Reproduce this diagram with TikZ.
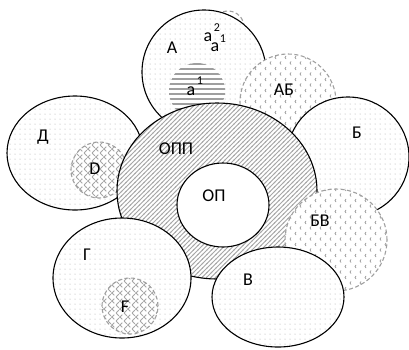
\documentclass[tikz,border=0pt]{standalone}
\usepackage{fontspec}
\setmainfont{Carlito}
\usetikzlibrary{patterns}
\pgfdeclarepatternformonly{mydots}{\pgfqpoint{-1pt}{-1pt}}{\pgfqpoint{6pt}{6pt}}{\pgfqpoint{5pt}{5pt}}{%
  \pgfpathcircle{\pgfqpoint{0pt}{0pt}}{0.5pt}\pgfusepath{fill}}
\pgfdeclarepatternformonly{myhatch}{\pgfqpoint{-1pt}{-1pt}}{\pgfqpoint{5.5pt}{5.5pt}}{\pgfqpoint{4.5pt}{4.5pt}}{%
  \pgfsetlinewidth{0.8pt}\pgfpathmoveto{\pgfqpoint{-0.5pt}{-0.5pt}}\pgfpathlineto{\pgfqpoint{5pt}{5pt}}\pgfusepath{stroke}}
\pgfdeclarepatternformonly{mycross}{\pgfqpoint{-1pt}{-1pt}}{\pgfqpoint{9pt}{9pt}}{\pgfqpoint{8pt}{8pt}}{%
  \pgfsetlinewidth{0.9pt}\pgfpathmoveto{\pgfqpoint{-0.5pt}{-0.5pt}}\pgfpathlineto{\pgfqpoint{8.5pt}{8.5pt}}%
  \pgfpathmoveto{\pgfqpoint{-0.5pt}{8.5pt}}\pgfpathlineto{\pgfqpoint{8.5pt}{-0.5pt}}\pgfusepath{stroke}}
\pgfdeclarepatternformonly{mystripes}{\pgfqpoint{-1pt}{-1pt}}{\pgfqpoint{6pt}{6pt}}{\pgfqpoint{5pt}{5pt}}{%
  \pgfsetlinewidth{2.6pt}\pgfpathmoveto{\pgfqpoint{-1pt}{0pt}}\pgfpathlineto{\pgfqpoint{6pt}{0pt}}\pgfusepath{stroke}}
\pgfdeclarepatternformonly{mychevron}{\pgfqpoint{-2pt}{-3pt}}{\pgfqpoint{12pt}{14pt}}{\pgfqpoint{10pt}{11pt}}{%
  \pgfsetlinewidth{0.8pt}%
  \pgfpathmoveto{\pgfqpoint{1pt}{1.5pt}}\pgfpathlineto{\pgfqpoint{0pt}{0pt}}\pgfpathlineto{\pgfqpoint{1pt}{-1.5pt}}%
  \pgfpathmoveto{\pgfqpoint{6pt}{7pt}}\pgfpathlineto{\pgfqpoint{5pt}{5.5pt}}\pgfpathlineto{\pgfqpoint{6pt}{4pt}}%
  \pgfusepath{stroke}}
\begin{document}
\begin{tikzpicture}[x=1pt,y=-1pt,
  ell/.style={draw=black, line width=1.1pt, preaction={fill=white}, pattern=mydots, pattern color=gray!70},
  dcirc/.style={draw=gray!75, dash pattern=on 4pt off 2.5pt, line width=1.1pt, preaction={fill=white}},
  lbl/.style={font=\fontsize{18}{20}\selectfont, inner sep=0pt},
  sup/.style={font=\fontsize{12}{14}\selectfont, inner sep=0pt}]
\useasboundingbox (0,0) rectangle (409,349);
% a2 small circle (mostly hidden)
\draw[dcirc] (228,27) circle[radius=16pt];
% A
\draw[ell] (204,72) ellipse[x radius=62pt, y radius=62pt];
% a1 striped circle
\fill[white] (197,91) circle[radius=28pt];
\fill[pattern=mystripes, pattern color=gray!75] (197,91) circle[radius=28pt];
% D (Д) ellipse and D circle
\draw[ell] (75,153) ellipse[x radius=68pt, y radius=57pt];
\draw[dcirc, pattern=mycross, pattern color=gray!70] (99,170) circle[radius=28pt];
% AB circle
\draw[dcirc, pattern=mychevron, pattern color=gray!75] (288,102) circle[radius=48pt];
% B ellipse
\draw[ell] (348,157) ellipse[x radius=61pt, y radius=60pt];
% OPP
\draw[line width=1.1pt, preaction={fill=white}, pattern=myhatch, pattern color=gray!70] (217,191) ellipse[x radius=100pt, y radius=88pt];
% OP
\draw[line width=1.1pt, fill=white] (223,205) ellipse[x radius=46pt, y radius=42pt];
% BV circle
\draw[dcirc, pattern=mychevron, pattern color=gray!75] (336,240) circle[radius=51pt];
% G ellipse and F
\draw[ell] (122,278) ellipse[x radius=69pt, y radius=60pt];
\draw[dcirc, pattern=mycross, pattern color=gray!70] (130,306) circle[radius=28pt];
% V ellipse
\draw[ell] (278,297) ellipse[x radius=66pt, y radius=50pt];
% labels
\node[lbl] (lA) at (172,48) {А};
\node[lbl] (la2) at (208,37) {a};
\node[sup] (la2s) at (217,28) {2};
\node[lbl] (la1b) at (215,47) {a};
\node[sup] (la1bs) at (223,39) {1};
\node[lbl] (la1) at (191,91) {a};
\node[sup] (la1s) at (200,81) {1};
\node[lbl] (lAB) at (284,90) {АБ};
\node[lbl] (lB) at (357,133) {Б};
\node[lbl] (lBV) at (320,221) {БВ};
\node[lbl] (lD) at (43,137) {Д};
\node[lbl] (lDl) at (95,169) {D};
\node[lbl] (lOPP) at (176,149) {ОПП};
\node[lbl] (lOP) at (214,196) {ОП};
\node[lbl] (lV) at (248,280) {В};
\node[lbl] (lG) at (87,255) {Г};
\node[lbl] (lF) at (125,307) {F};
\end{tikzpicture}
\end{document}
